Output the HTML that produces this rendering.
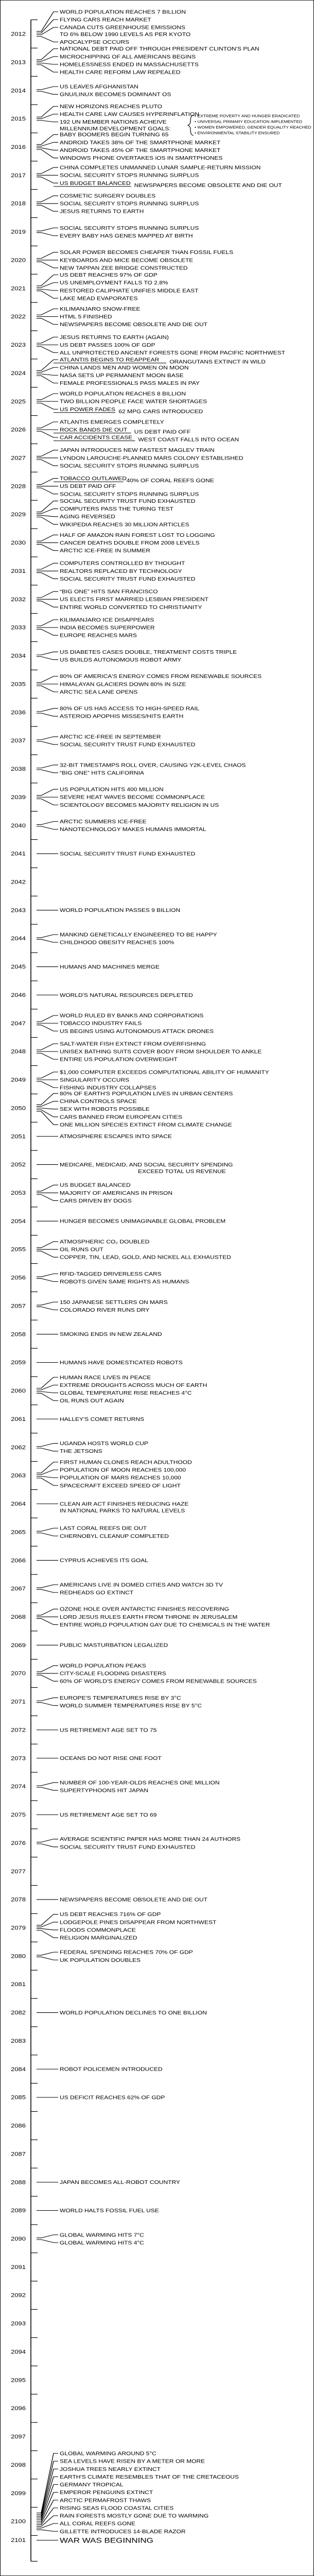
<!DOCTYPE html>
<html style="margin:0;padding:0;"><head><meta charset="utf-8">
<style>
html,body{margin:0;padding:0;background:#fff;width:610px;overflow:hidden;}
#wrap{width:610px;position:absolute;left:0;top:0;overflow:hidden;}
#chart{position:absolute;left:0;top:0;display:block;width:610px;overflow:hidden;}
svg text{font-family:"Liberation Sans",sans-serif;fill:#000;}
</style></head>
<body>
<div id="wrap">
<svg id="chart" width="610" height="6115" viewBox="0 0 610 6115" preserveAspectRatio="none" xmlns="http://www.w3.org/2000/svg"></svg>
</div>
<script>
const years = [];
for (let y = 2012; y <= 2101; y++) years.push(y);

const events = {
2012:["WORLD POPULATION REACHES 7 BILLION","FLYING CARS REACH MARKET","CANADA CUTS GREENHOUSE EMISSIONS\nTO 6% BELOW 1990 LEVELS AS PER KYOTO","APOCALYPSE OCCURS"],
2013:["NATIONAL DEBT PAID OFF THROUGH PRESIDENT CLINTON'S PLAN","MICROCHIPPING OF ALL AMERICANS BEGINS","HOMELESSNESS ENDED IN MASSACHUSETTS","HEALTH CARE REFORM LAW REPEALED"],
2014:["US LEAVES AFGHANISTAN","GNU/LINUX BECOMES DOMINANT OS"],
2015:["NEW HORIZONS REACHES PLUTO","HEALTH CARE LAW CAUSES HYPERINFLATION","192 UN MEMBER NATIONS ACHEIVE\nMILLENNIUM DEVELOPMENT GOALS:"],
2016:["BABY BOOMERS BEGIN TURNING 65","ANDROID TAKES 38% OF THE SMARTPHONE MARKET","ANDROID TAKES 45% OF THE SMARTPHONE MARKET","WINDOWS PHONE OVERTAKES iOS IN SMARTPHONES"],
2017:["CHINA COMPLETES UNMANNED LUNAR SAMPLE-RETURN MISSION","SOCIAL SECURITY STOPS RUNNING SURPLUS","US BUDGET BALANCED|NEWSPAPERS BECOME OBSOLETE AND DIE OUT"],
2018:["COSMETIC SURGERY DOUBLES","SOCIAL SECURITY STOPS RUNNING SURPLUS","JESUS RETURNS TO EARTH"],
2019:["SOCIAL SECURITY STOPS RUNNING SURPLUS","EVERY BABY HAS GENES MAPPED AT BIRTH"],
2020:["SOLAR POWER BECOMES CHEAPER THAN FOSSIL FUELS","KEYBOARDS AND MICE BECOME OBSOLETE","NEW TAPPAN ZEE BRIDGE CONSTRUCTED"],
2021:["US DEBT REACHES 97% OF GDP","US UNEMPLOYMENT FALLS TO 2.8%","RESTORED CALIPHATE UNIFIES MIDDLE EAST","LAKE MEAD EVAPORATES"],
2022:["KILIMANJARO SNOW-FREE","HTML 5 FINISHED","NEWSPAPERS BECOME OBSOLETE AND DIE OUT"],
2023:["JESUS RETURNS TO EARTH (AGAIN)","US DEBT PASSES 100% OF GDP","ALL UNPROTECTED ANCIENT FORESTS GONE FROM PACIFIC NORTHWEST"],
2024:["ATLANTIS BEGINS TO REAPPEAR|ORANGUTANS EXTINCT IN WILD","CHINA LANDS MEN AND WOMEN ON MOON","NASA SETS UP PERMANENT MOON BASE","FEMALE PROFESSIONALS PASS MALES IN PAY"],
2025:["WORLD POPULATION REACHES 8 BILLION","TWO BILLION PEOPLE FACE WATER SHORTAGES","US POWER FADES|62 MPG CARS INTRODUCED"],
2026:["ATLANTIS EMERGES COMPLETELY","ROCK BANDS DIE OUT|US DEBT PAID OFF","CAR ACCIDENTS CEASE|WEST COAST FALLS INTO OCEAN"],
2027:["JAPAN INTRODUCES NEW FASTEST MAGLEV TRAIN","LYNDON LAROUCHE-PLANNED MARS COLONY ESTABLISHED","SOCIAL SECURITY STOPS RUNNING SURPLUS"],
2028:["TOBACCO OUTLAWED|40% OF CORAL REEFS GONE","US DEBT PAID OFF","SOCIAL SECURITY STOPS RUNNING SURPLUS"],
2029:["SOCIAL SECURITY TRUST FUND EXHAUSTED","COMPUTERS PASS THE TURING TEST","AGING REVERSED","WIKIPEDIA REACHES 30 MILLION ARTICLES"],
2030:["HALF OF AMAZON RAIN FOREST LOST TO LOGGING","CANCER DEATHS DOUBLE FROM 2008 LEVELS","ARCTIC ICE-FREE IN SUMMER"],
2031:["COMPUTERS CONTROLLED BY THOUGHT","REALTORS REPLACED BY TECHNOLOGY","SOCIAL SECURITY TRUST FUND EXHAUSTED"],
2032:["\u201CBIG ONE\u201D HITS SAN FRANCISCO","US ELECTS FIRST MARRIED LESBIAN PRESIDENT","ENTIRE WORLD CONVERTED TO CHRISTIANITY"],
2033:["KILIMANJARO ICE DISAPPEARS","INDIA BECOMES SUPERPOWER","EUROPE REACHES MARS"],
2034:["US DIABETES CASES DOUBLE, TREATMENT COSTS TRIPLE","US BUILDS AUTONOMOUS ROBOT ARMY"],
2035:["80% OF AMERICA'S ENERGY COMES FROM RENEWABLE SOURCES","HIMALAYAN GLACIERS DOWN 80% IN SIZE","ARCTIC SEA LANE OPENS"],
2036:["80% OF US HAS ACCESS TO HIGH-SPEED RAIL","ASTEROID APOPHIS MISSES/HITS EARTH"],
2037:["ARCTIC ICE-FREE IN SEPTEMBER","SOCIAL SECURITY TRUST FUND EXHAUSTED"],
2038:["32-BIT TIMESTAMPS ROLL OVER, CAUSING Y2K-LEVEL CHAOS","\u201CBIG ONE\u201D HITS CALIFORNIA"],
2039:["US POPULATION HITS 400 MILLION","SEVERE HEAT WAVES BECOME COMMONPLACE","SCIENTOLOGY BECOMES MAJORITY RELIGION IN US"],
2040:["ARCTIC SUMMERS ICE-FREE","NANOTECHNOLOGY MAKES HUMANS IMMORTAL"],
2041:["SOCIAL SECURITY TRUST FUND EXHAUSTED"],
2043:["WORLD POPULATION PASSES 9 BILLION"],
2044:["MANKIND GENETICALLY ENGINEERED TO BE HAPPY","CHILDHOOD OBESITY REACHES 100%"],
2045:["HUMANS AND MACHINES MERGE"],
2046:["WORLD'S NATURAL RESOURCES DEPLETED"],
2047:["WORLD RULED BY BANKS AND CORPORATIONS","TOBACCO INDUSTRY FAILS","US BEGINS USING AUTONOMOUS ATTACK DRONES"],
2048:["SALT-WATER FISH EXTINCT FROM OVERFISHING","UNISEX BATHING SUITS COVER BODY FROM SHOULDER TO ANKLE","ENTIRE US POPULATION OVERWEIGHT"],
2049:["$1,000 COMPUTER EXCEEDS COMPUTATIONAL ABILITY OF HUMANITY","SINGULARITY OCCURS","FISHING INDUSTRY COLLAPSES"],
2050:["80% OF EARTH'S POPULATION LIVES IN URBAN CENTERS","CHINA CONTROLS SPACE","SEX WITH ROBOTS POSSIBLE","CARS BANNED FROM EUROPEAN CITIES","ONE MILLION SPECIES EXTINCT FROM CLIMATE CHANGE"],
2051:["ATMOSPHERE ESCAPES INTO SPACE"],
2052:["MEDICARE, MEDICAID, AND SOCIAL SECURITY SPENDING\n~EXCEED TOTAL US REVENUE"],
2053:["US BUDGET BALANCED","MAJORITY OF AMERICANS IN PRISON","CARS DRIVEN BY DOGS"],
2054:["HUNGER BECOMES UNIMAGINABLE GLOBAL PROBLEM"],
2055:["ATMOSPHERIC CO\u2082 DOUBLED","OIL RUNS OUT","COPPER, TIN, LEAD, GOLD, AND NICKEL ALL EXHAUSTED"],
2056:["RFID-TAGGED DRIVERLESS CARS","ROBOTS GIVEN SAME RIGHTS AS HUMANS"],
2057:["150 JAPANESE SETTLERS ON MARS","COLORADO RIVER RUNS DRY"],
2058:["SMOKING ENDS IN NEW ZEALAND"],
2059:["HUMANS HAVE DOMESTICATED ROBOTS"],
2060:["HUMAN RACE LIVES IN PEACE","EXTREME DROUGHTS ACROSS MUCH OF EARTH","GLOBAL TEMPERATURE RISE REACHES 4\u00B0C","OIL RUNS OUT AGAIN"],
2061:["HALLEY'S COMET RETURNS"],
2062:["UGANDA HOSTS WORLD CUP","THE JETSONS"],
2063:["FIRST HUMAN CLONES REACH ADULTHOOD","POPULATION OF MOON REACHES 100,000","POPULATION OF MARS REACHES 10,000","SPACECRAFT EXCEED SPEED OF LIGHT"],
2064:["CLEAN AIR ACT FINISHES REDUCING HAZE\n IN NATIONAL PARKS TO NATURAL LEVELS"],
2065:["LAST CORAL REEFS DIE OUT","CHERNOBYL CLEANUP COMPLETED"],
2066:["CYPRUS ACHIEVES ITS GOAL"],
2067:["AMERICANS LIVE IN DOMED CITIES AND WATCH 3D TV","REDHEADS GO EXTINCT"],
2068:["OZONE HOLE OVER ANTARCTIC FINISHES RECOVERING","LORD JESUS RULES EARTH FROM THRONE IN JERUSALEM","ENTIRE WORLD POPULATION GAY DUE TO CHEMICALS IN THE WATER"],
2069:["PUBLIC MASTURBATION LEGALIZED"],
2070:["WORLD POPULATION PEAKS","CITY-SCALE FLOODING DISASTERS","60% OF WORLD'S ENERGY COMES FROM RENEWABLE SOURCES"],
2071:["EUROPE'S TEMPERATURES RISE BY 3\u00B0C","WORLD SUMMER TEMPERATURES RISE BY 5\u00B0C"],
2072:["US RETIREMENT AGE SET TO 75"],
2073:["OCEANS DO NOT RISE ONE FOOT"],
2074:["NUMBER OF 100-YEAR-OLDS REACHES ONE MILLION","SUPERTYPHOONS HIT JAPAN"],
2075:["US RETIREMENT AGE SET TO 69"],
2076:["AVERAGE SCIENTIFIC PAPER HAS MORE THAN 24 AUTHORS","SOCIAL SECURITY TRUST FUND EXHAUSTED"],
2078:["NEWSPAPERS BECOME OBSOLETE AND DIE OUT"],
2079:["US DEBT REACHES 716% OF GDP","LODGEPOLE PINES DISAPPEAR FROM NORTHWEST","FLOODS COMMONPLACE","RELIGION MARGINALIZED"],
2080:["FEDERAL SPENDING REACHES 70% OF GDP","UK POPULATION DOUBLES"],
2082:["WORLD POPULATION DECLINES TO ONE BILLION"],
2084:["ROBOT POLICEMEN INTRODUCED"],
2085:["US DEFICIT REACHES 62% OF GDP"],
2088:["JAPAN BECOMES ALL-ROBOT COUNTRY"],
2089:["WORLD HALTS FOSSIL FUEL USE"],
2090:["GLOBAL WARMING HITS 7\u00B0C","GLOBAL WARMING HITS 4\u00B0C"],
2100:["GLOBAL WARMING AROUND 5\u00B0C","SEA LEVELS HAVE RISEN BY A METER OR MORE","JOSHUA TREES NEARLY EXTINCT","EARTH'S CLIMATE RESEMBLES THAT OF THE CRETACEOUS","GERMANY TROPICAL","EMPEROR PENGUINS EXTINCT","ARCTIC PERMAFROST THAWS","RISING SEAS FLOOD COASTAL CITIES","RAIN FORESTS MOSTLY GONE DUE TO WARMING","ALL CORAL REEFS GONE","GILLETTE INTRODUCES 14-BLADE RAZOR"],
2101:["WAR WAS BEGINNING"]
};

const mdgGoals = ["EXTREME POVERTY AND HUNGER ERADICATED","UNIVERSAL PRIMARY EDUCATION IMPLEMENTED","WOMEN EMPOWERED, GENDER EQUALITY REACHED","ENVIRONMENTAL STABILITY ENSURED"];

const NS = "http://www.w3.org/2000/svg";
const svg = document.getElementById("chart");
// fit the 610x6115 drawing to the actual viewport height
const VH = (window.innerHeight && window.innerHeight > 100) ? Math.min(window.innerHeight, 6115) : 6115;
svg.setAttribute("height", VH);
svg.style.height = VH + "px";
document.getElementById("wrap").style.height = VH + "px";
document.body.style.height = VH + "px";
document.documentElement.style.height = VH + "px";
document.documentElement.style.overflow = "hidden";

const TOP = 47, YEAR_H = 67.1, AXIS_X = 60, PITCH = 18.5, LINE2 = 16;
function yTick(yr){ return TOP + (yr - 2012) * YEAR_H; }
function yCenter(yr){ return yTick(yr) + YEAR_H / 2; }
function mk(tag, attrs){ const e = document.createElementNS(NS, tag); for (const k in attrs) e.setAttribute(k, attrs[k]); svg.appendChild(e); return e; }

const frame = mk("rect", {x:0.5, y:0.5, width:609, height:6114, fill:"none", stroke:"#000", "stroke-width":1});



const lastY = 6080;
const axis = mk("line", {x1:AXIS_X, y1:yTick(2012), x2:AXIS_X, y2:lastY, stroke:"#000", "stroke-width":1.6});



years.forEach(yr => {
  const t = mk("line", {x1:AXIS_X, y1:yTick(yr), x2:AXIS_X + 13, y2:yTick(yr), stroke:"#000", "stroke-width":1.4});
  
  
  const lbl = mk("text", {x:50, y:(yr === 2101 ? 6034 : yCenter(yr) + 4.5), "text-anchor":"end", "font-size":13});
  lbl.textContent = yr;
  
  
});
const endTick = mk("line", {x1:AXIS_X, y1:lastY, x2:AXIS_X + 13, y2:lastY, stroke:"#000", "stroke-width":1.4});



let cursor = 20;
years.forEach(yr => {
  const list = events[yr];
  if (!list || !list.length) return;
  const adv = list.map(s => (s.split("\n").length - 1) * LINE2);
  let span = 0;
  list.forEach((s, i) => { if (i > 0) span += PITCH + adv[i-1]; });
  let c = yr === 2101 ? 6030 : yCenter(yr);
  let start = Math.min(c - span / 2, yTick(yr + 1) - 10 - span - adv[adv.length-1]);
  if (yr === 2012) start = 28;
  if (yr === 2101) start = 6030;
  start = Math.max(cursor, start);
  let y = start;
  const n = list.length;
  list.forEach((s, i) => {
    const y0 = c + (i - (n - 1) / 2) * 4;
    const conn = mk("polyline", {points:`71,${y0} 80,${y0} 104,${y} 113,${y}`, fill:"none", stroke:"#000", "stroke-width":1.3});
    
    
    const fs = yr === 2101 ? 17 : 12;
    const lines = s.split("\n");
    lines.forEach((ln, li) => {
      const parts = ln.split("|");
      let x = 116;
      let txt = parts[0];
      if (txt.startsWith("~")) { txt = txt.slice(1); x = 268; }
      const te = mk("text", {x:x, y:y + li * LINE2 + fs * 0.36, "font-size":fs});
      te.textContent = txt;
      
      
      if (parts.length > 1) {
        const w = txt.length * 7.6;
        const ul = mk("line", {x1:104, y1:y + 8, x2:x + w + 2, y2:y + 8, stroke:"#000", "stroke-width":1.2});
        
        
        const t2 = mk("text", {x:x + w + 8, y:y + 5 + fs * 0.36, "font-size":fs});
        t2.textContent = parts[1];
        
        
      }
    });
    if (yr === 2015 && i === n - 1) {
      const bx = 370, by = y - 10;
      const br = mk("path", {d:`M${bx+6},${by-6} Q${bx},${by-6} ${bx},${by+8} Q${bx},${by+16} ${bx-5},${by+18} Q${bx},${by+20} ${bx},${by+28} Q${bx},${by+42} ${bx+6},${by+42}`, fill:"none", stroke:"#000", "stroke-width":1.2});
      
      
      mdgGoals.forEach((g, gi) => {
        const gt = mk("text", {x:bx + 8, y:by - 1 + gi * 13.5, "font-size":8.5});
        gt.textContent = "\u2022 " + g;
        
        
      });
    }
    y += PITCH + adv[i];
  });
  cursor = y - PITCH + 14;
});
</script>
</body></html>
